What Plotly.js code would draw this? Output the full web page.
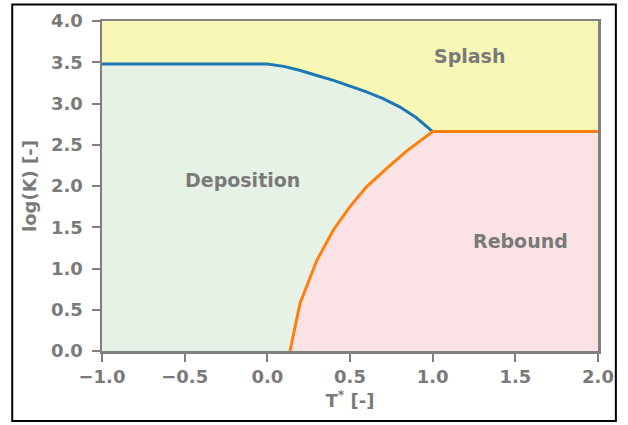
<!DOCTYPE html>
<html><head><meta charset="utf-8">
<script src="https://cdn.plot.ly/plotly-3.0.1.min.js"></script>
<style>html,body{margin:0;padding:0;background:#fff}#c{width:628px;height:425px}</style>
</head><body><div id="c"></div>
<script>
// Splash / deposition boundary (blue)
const splashX = [-1.0, 0.0, 0.1, 0.2, 0.3, 0.4, 0.5, 0.6, 0.7, 0.8, 0.9, 1.0];
const splashY = [3.48, 3.48, 3.45, 3.40, 3.34, 3.28, 3.21, 3.14, 3.06, 2.96, 2.83, 2.66];
// Deposition / rebound boundary (orange)
const reboundX = [0.137, 0.198, 0.30, 0.40, 0.50, 0.60, 0.72, 0.84, 1.0, 2.0];
const reboundY = [0.0, 0.58, 1.10, 1.47, 1.75, 1.99, 2.21, 2.42, 2.66, 2.66];
const labels = [
  {text: "Splash", x: 1.22, y: 3.58},
  {text: "Deposition", x: -0.15, y: 2.07},
  {text: "Rebound", x: 1.53, y: 1.33}
];
const xTicks = [-1.0, -0.5, 0.0, 0.5, 1.0, 1.5, 2.0];
const yTicks = [0.0, 0.5, 1.0, 1.5, 2.0, 2.5, 3.0, 3.5, 4.0];

const grey = '#7a7a7a';
const fnt = {family: 'DejaVu Sans', size: 18, color: grey, weight: 'bold'};

// region polygons built from the boundary arrays
const depX = [-1.0].concat(splashX, reboundX.slice(0, 9).reverse(), [-1.0]);
const depY = [0.0].concat(splashY, reboundY.slice(0, 9).reverse(), [0.0]);
const rebX = reboundX.concat([2.0, reboundX[0]]);
const rebY = reboundY.concat([0.0, 0.0]);

const traces = [
  {x: [-1, 2, 2, -1, -1], y: [0, 0, 4, 4, 0], fill: 'toself', fillcolor: '#f9f7b6', line: {width: 0}, mode: 'lines', hoverinfo: 'skip'},
  {x: depX, y: depY, fill: 'toself', fillcolor: '#e6f2e5', line: {width: 0}, mode: 'lines', hoverinfo: 'skip'},
  {x: rebX, y: rebY, fill: 'toself', fillcolor: '#fbe3e5', line: {width: 0}, mode: 'lines', hoverinfo: 'skip'},
  {x: splashX, y: splashY, mode: 'lines', line: {color: '#1f77b4', width: 3}},
  {x: reboundX, y: reboundY, mode: 'lines', line: {color: '#ff7f0e', width: 3}}
];

const axisCommon = {
  showgrid: false, zeroline: false, showline: true, mirror: true,
  linecolor: '#808080', linewidth: 2.5, ticks: 'outside', ticklen: 8, tickwidth: 2,
  tickcolor: '#808080', tickfont: fnt, tickformat: '.1f'
};

const layout = {
  width: 628, height: 425,
  margin: {l: 102, r: 30, t: 21, b: 74},
  paper_bgcolor: '#ffffff', plot_bgcolor: '#ffffff',
  showlegend: false,
  font: fnt,
  xaxis: Object.assign({}, axisCommon, {range: [-1, 2], tickvals: xTicks,
    title: {text: 'T<sup>*</sup> [-]', font: fnt, standoff: 5}}),
  yaxis: Object.assign({}, axisCommon, {range: [0, 4], tickvals: yTicks,
    ticklabelstandoff: 5,
    title: {text: 'log(K) [-]', font: fnt, standoff: 10}}),
  annotations: labels.map(l => ({x: l.x, y: l.y, text: l.text, showarrow: false,
    font: {family: 'DejaVu Sans', size: 19, color: grey, weight: 'bold'}})),
  shapes: [{type: 'rect', xref: 'paper', yref: 'paper',
    x0: -0.181, x1: 1.036, y0: -0.212, y1: 1.05,
    line: {color: '#000', width: 2}}]
};

Plotly.newPlot('c', traces, layout, {displayModeBar: false, staticPlot: true});
</script></body></html>
